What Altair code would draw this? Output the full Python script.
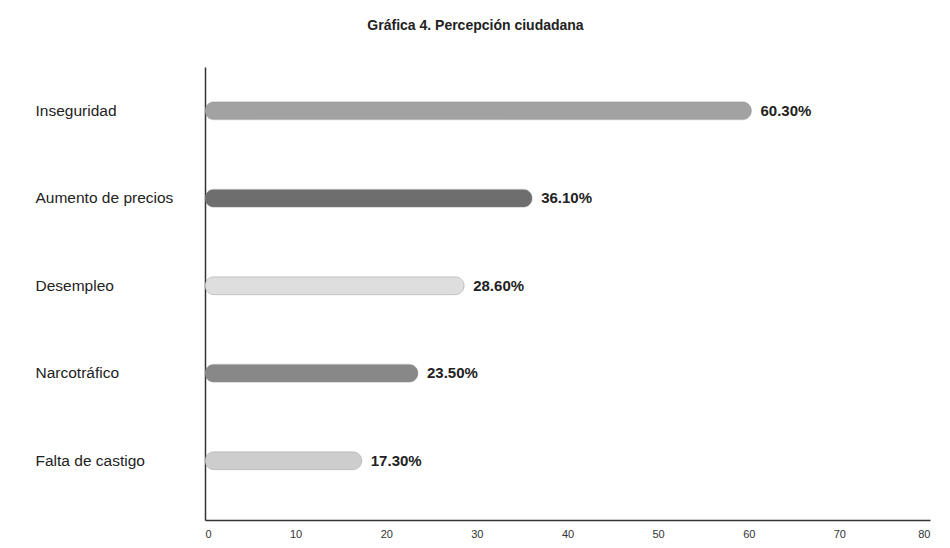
import altair as alt
import pandas as pd

categories = ["Inseguridad", "Aumento de precios", "Desempleo", "Narcotráfico", "Falta de castigo"]
values = [60.3, 36.1, 28.6, 23.5, 17.3]
labels = ["60.30%", "36.10%", "28.60%", "23.50%", "17.30%"]
colors = ["#a2a2a2", "#6e6e6e", "#dedede", "#888888", "#cdcdcd"]
x_ticks = [0, 10, 20, 30, 40, 50, 60, 70, 80]

df = pd.DataFrame({"cat": categories, "val": values, "label": labels, "color": colors})

FONT = "Liberation Sans"

y_enc = alt.Y(
    "cat:N",
    sort=categories,
    title=None,
    scale=alt.Scale(paddingInner=0, paddingOuter=0.089, align=0),
    axis=alt.Axis(
        labelAlign="left",
        labelPadding=170,
        labelFontSize=15.5,
        labelColor="#222222",
        labelFont=FONT,
        ticks=False,
        domainColor="#333333",
        domainWidth=1.5,
    ),
)

x_enc = alt.X(
    "val:Q",
    title=None,
    scale=alt.Scale(domain=[0, 80], nice=False),
    axis=alt.Axis(
        values=x_ticks,
        grid=False,
        ticks=False,
        labelPadding=8,
        labelFontSize=11,
        labelColor="#333333",
        labelFont=FONT,
        domainColor="#333333",
        domainWidth=1.5,
    ),
)

bars = alt.Chart(df).mark_bar(size=18, cornerRadius=9, stroke="#8a8a8a", strokeWidth=0.6, strokeOpacity=0.6).encode(
    x=x_enc,
    y=y_enc,
    color=alt.Color("color:N", scale=None),
)

text = alt.Chart(df).mark_text(
    align="left", baseline="middle", dx=9, fontSize=15, fontWeight="bold", font=FONT, color="#222222"
).encode(
    x="val:Q",
    y=alt.Y("cat:N", sort=categories),
    text="label:N",
)

chart = (
    alt.layer(bars, text)
    .properties(
        width=725,
        height=453,
        autosize=alt.AutoSizeParams(type="none"),
        padding={"left": 197, "top": 59, "right": 12, "bottom": 19},
        title=alt.TitleParams(
            "Gráfica 4. Percepción ciudadana",
            fontSize=14,
            fontWeight="bold",
            font=FONT,
            color="#222222",
            dx=-92,
            offset=34,
        ),
    )
    .configure_view(stroke=None)
)

chart.save("out.html", embed_options={"renderer": "svg", "actions": False})
